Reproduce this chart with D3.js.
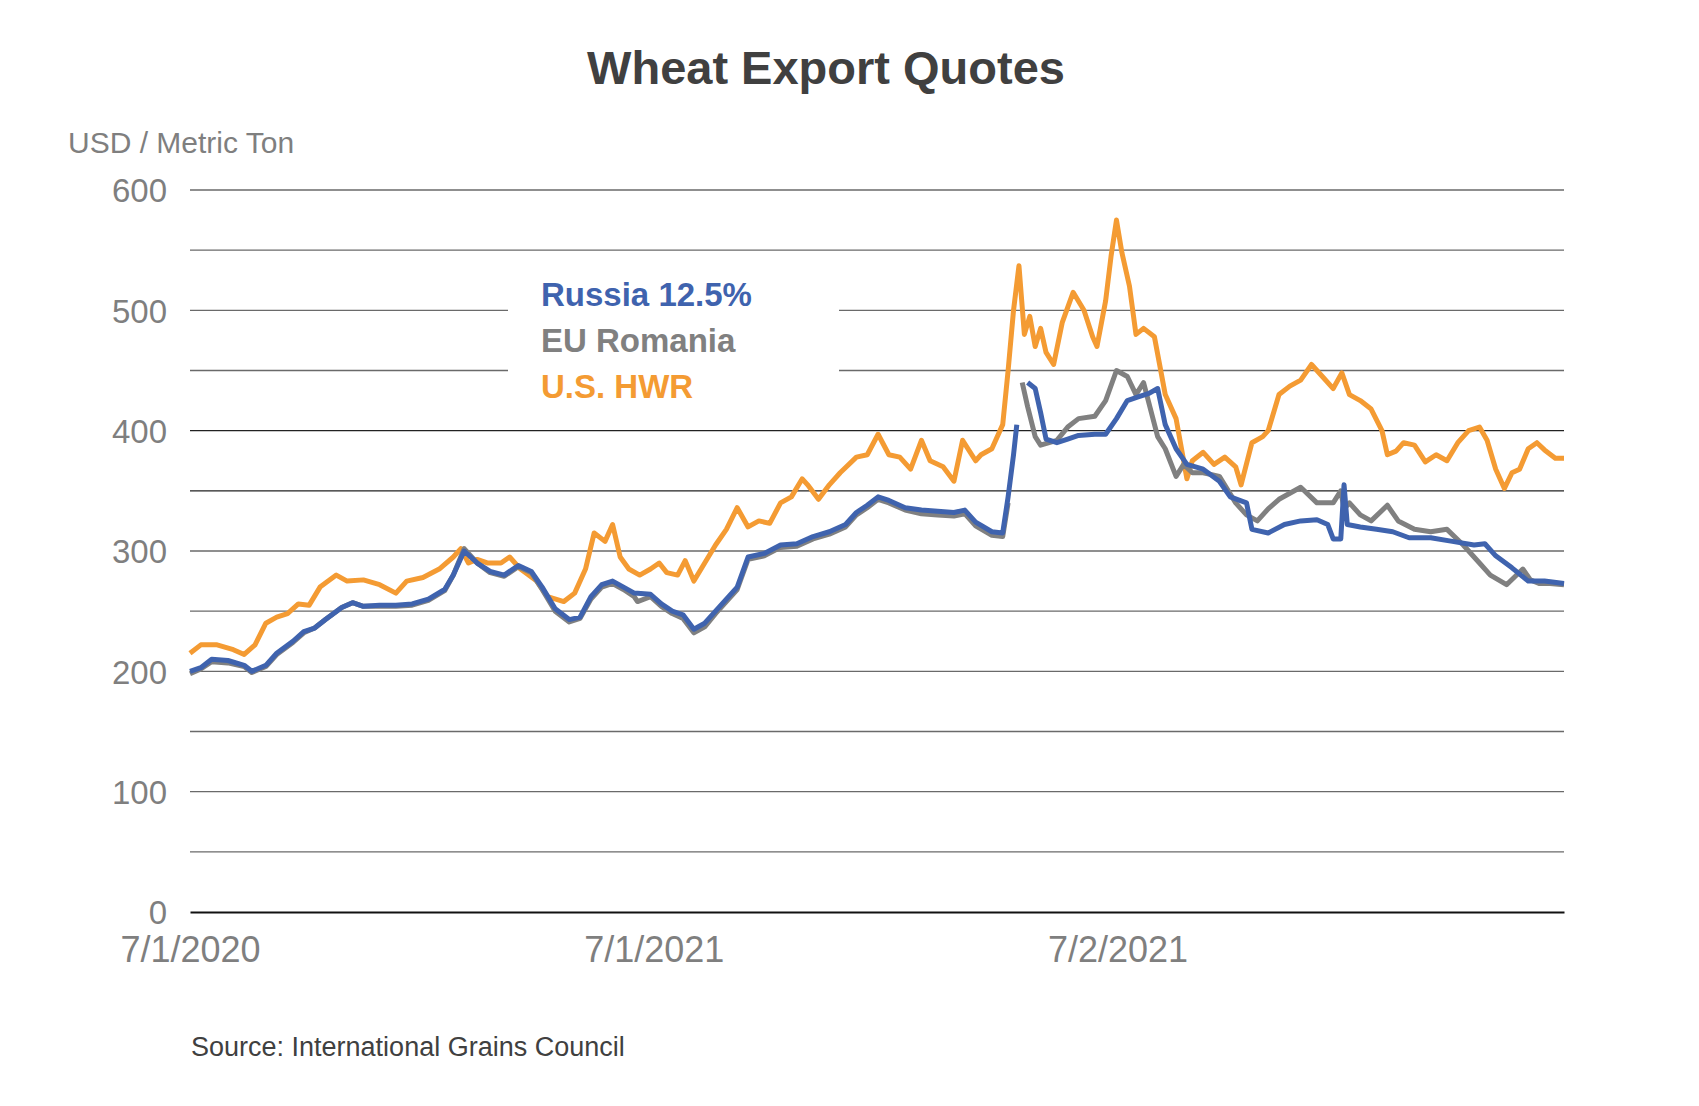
<!DOCTYPE html>
<html><head><meta charset="utf-8">
<script src="https://cdn.jsdelivr.net/npm/d3@7"></script>
<style>body{margin:0;background:#fff}svg{font-family:"Liberation Sans",Arial,Helvetica,sans-serif}</style>
</head><body><svg id="c" width="1699" height="1106"></svg>
<script>
const title = "Wheat Export Quotes";
const yTitle = "USD / Metric Ton";
const source = "Source: International Grains Council";
const xTickIdx = [0, 428, 856];
const xTickLabels = ["7/1/2020", "7/1/2021", "7/2/2021"];
const yTicks = [0, 100, 200, 300, 400, 500, 600];
const seriesNames = ["Russia 12.5%", "EU Romania", "U.S. HWR"];
const seriesColors = ["#3f63ae", "#808080", "#f49b33"];

// observation index (428 per labelled year) and values; null = gap
const russiaIdx = [0,10,20,35,50,57,70,80,95,105,115,125,140,150,160,175,190,205,220,235,243,253,265,277,290,303,315,325,337,350,360,370,380,390,400,410,425,435,445,455,465,475,485,495,505,515,530,545,560,575,590,605,615,625,635,645,660,675,690,705,715,725,740,750,755,760,763,768,773,780,785,790,800,810,820,835,845,855,865,875,885,893,900,910,920,935,950,960,975,980,995,1010,1025,1040,1050,1055,1062,1065,1068,1080,1095,1110,1125,1145,1165,1185,1195,1205,1220,1235,1250,1268];
const russiaVal = [200,203,210,209,205,200,205,215,225,233,236,243,253,257,254,255,255,256,260,268,280,300,290,283,280,288,283,270,252,243,245,262,272,275,270,265,264,256,250,247,235,240,250,260,270,295,298,305,306,312,316,322,332,338,345,342,336,334,333,332,334,324,316,315,345,380,405,null,440,435,415,393,390,393,396,397,397,410,425,428,431,435,405,385,372,368,358,345,340,318,315,322,325,326,322,310,310,355,322,320,318,316,311,311,308,305,306,296,286,275,275,273];

const euIdx = [0,10,20,35,50,57,70,80,95,105,115,125,140,150,160,175,190,205,220,235,243,253,265,277,290,303,315,325,337,350,360,370,380,390,400,410,413,425,435,445,455,465,475,485,495,505,515,530,545,560,575,590,605,615,625,635,645,660,675,690,705,715,725,740,750,755,760,763,768,773,780,785,800,810,820,835,845,855,865,873,880,893,900,910,917,925,935,950,965,975,985,995,1005,1015,1025,1040,1055,1062,1065,1070,1080,1090,1105,1115,1130,1145,1160,1175,1190,1200,1215,1230,1237,1245,1255,1268];
const euVal = [198,202,208,207,204,199,204,214,224,232,236,243,253,257,254,254,254,255,259,267,280,302,290,282,279,287,282,268,250,241,244,260,270,273,268,262,258,262,254,248,244,232,237,248,258,268,293,296,303,304,310,314,320,330,336,343,340,334,331,330,329,331,321,313,312,340,null,null,440,420,395,388,392,403,410,412,425,450,445,430,440,395,385,362,372,365,365,362,340,330,325,335,343,348,353,340,340,350,335,340,330,325,338,325,318,316,318,305,290,280,272,285,276,273,273,272];

const usIdx = [0,10,25,40,50,60,70,80,90,100,110,120,135,145,160,175,190,200,215,230,243,250,257,265,275,287,295,305,320,330,345,355,365,373,383,390,397,405,415,425,433,440,450,457,465,475,485,495,505,515,525,535,545,555,565,570,580,590,600,615,625,635,645,655,665,675,683,695,705,713,725,730,740,750,755,760,765,770,775,780,785,790,797,805,815,825,833,837,845,850,855,860,867,873,880,890,900,910,920,925,935,945,955,965,970,980,990,995,1005,1015,1025,1035,1045,1055,1063,1070,1080,1090,1100,1105,1113,1120,1130,1140,1150,1160,1170,1180,1190,1197,1205,1213,1220,1227,1235,1243,1250,1260,1268];
const usVal = [215,222,222,218,214,222,240,245,248,256,255,270,280,275,276,272,265,275,278,285,295,302,290,293,290,290,295,285,275,262,258,265,285,315,308,322,295,285,280,285,290,282,280,292,275,290,305,318,336,320,325,323,340,345,360,355,343,355,365,378,380,397,380,378,368,392,375,370,358,392,375,380,385,405,450,500,537,480,495,470,485,465,455,490,515,500,478,470,508,545,575,548,520,480,485,478,430,410,360,375,382,372,378,370,355,390,395,400,430,437,442,455,445,435,448,430,425,418,400,380,383,390,388,374,380,375,390,400,403,392,368,352,365,368,385,390,384,377,377].slice(0, 140);

const svg = d3.select("#c");
const x = d3.scaleLinear().domain([0, 1268]).range([190, 1564]);
const y = d3.scaleLinear().domain([0, 600]).range([912, 190]);

svg.append("text").attr("x", 826).attr("y", 84).attr("text-anchor", "middle")
  .attr("font-size", 47).attr("font-weight", "bold").attr("fill", "#404040").text(title);
svg.append("text").attr("x", 68).attr("y", 153).attr("font-size", 30).attr("fill", "#7f7f7f").text(yTitle);

const grid = d3.range(50, 601, 50);
svg.append("g").selectAll("line").data(grid).join("line")
  .attr("x1", 190).attr("x2", 1564).attr("y1", d => y(d)).attr("y2", d => y(d))
  .attr("stroke", d => (d === 350 || d === 400) ? "#222" : "#6a6a6a").attr("stroke-width", 1.4);

const yAxis = d3.axisLeft(y).tickValues(yTicks).tickSize(0).tickPadding(0);
const gy = svg.append("g").attr("transform", "translate(167,0)").call(yAxis);
gy.select(".domain").remove();
gy.selectAll("text").attr("font-size", 33).attr("fill", "#7f7f7f").attr("font-family", "Liberation Sans, Arial, sans-serif").attr("dy", "0.36em");

const xAxis = d3.axisBottom(x).tickValues(xTickIdx).tickFormat((d, i) => xTickLabels[i]).tickSize(0).tickPadding(0);
const gx = svg.append("g").attr("transform", "translate(0,912)").call(xAxis);
gx.select(".domain").attr("stroke", "#111").attr("stroke-width", 2);
gx.selectAll("text").attr("font-size", 36).attr("fill", "#7f7f7f").attr("font-family", "Liberation Sans, Arial, sans-serif").attr("dy", "0").attr("y", 50);

svg.append("rect").attr("x", 508).attr("y", 283).attr("width", 331).attr("height", 118).attr("fill", "#fff");

const line = d3.line().defined(d => d[1] !== null).x(d => x(d[0])).y(d => y(d[1]));
const order = [[usIdx, usVal, seriesColors[2]], [euIdx, euVal, seriesColors[1]], [russiaIdx, russiaVal, seriesColors[0]]];
order.forEach(([ix, vals, col]) => {
  const pts = ix.map((t, i) => [t, vals[i] === undefined ? null : vals[i]]);
  svg.append("path").datum(pts).attr("d", line).attr("fill", "none")
    .attr("stroke", col).attr("stroke-width", 5).attr("stroke-linejoin", "round");
});

seriesNames.forEach((n, i) => {
  svg.append("text").attr("x", 541).attr("y", 306 + i * 46).attr("font-size", 33).attr("font-weight", "bold")
    .attr("fill", seriesColors[i]).text(n);
});

svg.append("text").attr("x", 191).attr("y", 1056).attr("font-size", 27).attr("fill", "#404040").text(source);
</script></body></html>
